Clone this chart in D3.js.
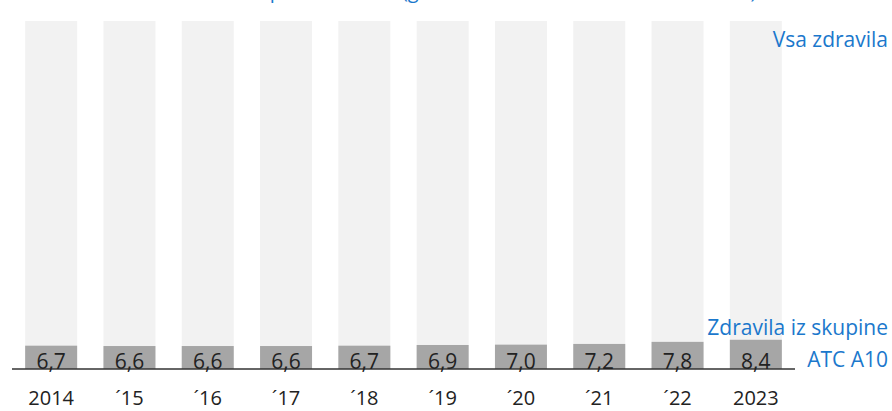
<!DOCTYPE html>
<html>
<head>
<meta charset="utf-8">
<script src="https://cdn.jsdelivr.net/npm/d3@7"></script>
<style>
  body { margin: 0; background: #fff; }
  text { font-family: "Open Sans", sans-serif; }
</style>
</head>
<body>
<script>
// podatki
const years = ["2014", "´15", "´16", "´17", "´18", "´19", "´20", "´21", "´22", "2023"];
const total = [100, 100, 100, 100, 100, 100, 100, 100, 100, 100];   // vsa zdravila = 100 %
const shareA10 = [6.7, 6.6, 6.6, 6.6, 6.7, 6.9, 7.0, 7.2, 7.8, 8.4];

const width = 892, height = 411;
const blue = "#1b78cc";

const svg = d3.select("body")
    .append("svg")
    .attr("width", width)
    .attr("height", height)

const x = d3.scaleBand()
    .domain(years)
    .range([12, 795])
    .paddingInner(0.336)
    .paddingOuter(0.168)

const y = d3.scaleLinear()
    .domain([0, 100])
    .range([369, 21])

// naslov (odrezan na vrhu, kot v izvirniku)
svg.append("text")
    .attr("x", 403)
    .attr("y", -2)
    .attr("text-anchor", "middle")
    .attr("font-size", 20)
    .attr("fill", blue)
    .text("Delež zdravil ATC A10 v porabi zdravil (glede na vrednost izdanih zdravil v %)")

// svetli stolpci - vsa zdravila
svg.selectAll(".total")
    .data(total)
    .enter()
    .append("rect")
    .attr("x", (d, i) => x(years[i]))
    .attr("y", d => y(d))
    .attr("width", x.bandwidth())
    .attr("height", d => y(0) - y(d))
    .attr("fill", "#f2f2f2")

// temni stolpci - ATC A10
svg.selectAll(".a10")
    .data(shareA10)
    .enter()
    .append("rect")
    .attr("x", (d, i) => x(years[i]))
    .attr("y", d => y(d))
    .attr("width", x.bandwidth())
    .attr("height", d => y(0) - y(d))
    .attr("fill", "#a6a6a6")

// os
svg.append("line")
    .attr("x1", 12)
    .attr("x2", 795)
    .attr("y1", y(0))
    .attr("y2", y(0))
    .attr("stroke", "#333")
    .attr("stroke-width", 1.5)

// vrednosti
svg.selectAll(".val")
    .data(shareA10)
    .enter()
    .append("text")
    .attr("x", (d, i) => x(years[i]) + x.bandwidth() / 2)
    .attr("y", y(0))
    .attr("text-anchor", "middle")
    .attr("font-size", 21)
    .attr("fill", "#222")
    .text(d => d3.format(".1f")(d).replace(".", ","))

// oznake let
svg.selectAll(".yr")
    .data(years)
    .enter()
    .append("text")
    .attr("x", d => x(d) + x.bandwidth() / 2)
    .attr("y", 405)
    .attr("text-anchor", "middle")
    .attr("font-size", 20)
    .attr("fill", "#222")
    .text(d => d)

// legenda
svg.append("text")
    .attr("x", 888)
    .attr("y", 47)
    .attr("text-anchor", "end")
    .attr("font-size", 21)
    .attr("fill", blue)
    .text("Vsa zdravila")

svg.append("text")
    .attr("x", 888)
    .attr("y", 335)
    .attr("text-anchor", "end")
    .attr("font-size", 21)
    .attr("fill", blue)
    .text("Zdravila iz skupine")

svg.append("text")
    .attr("x", 888)
    .attr("y", 367)
    .attr("text-anchor", "end")
    .attr("font-size", 21)
    .attr("fill", blue)
    .text("ATC A10")
</script>
</body>
</html>
